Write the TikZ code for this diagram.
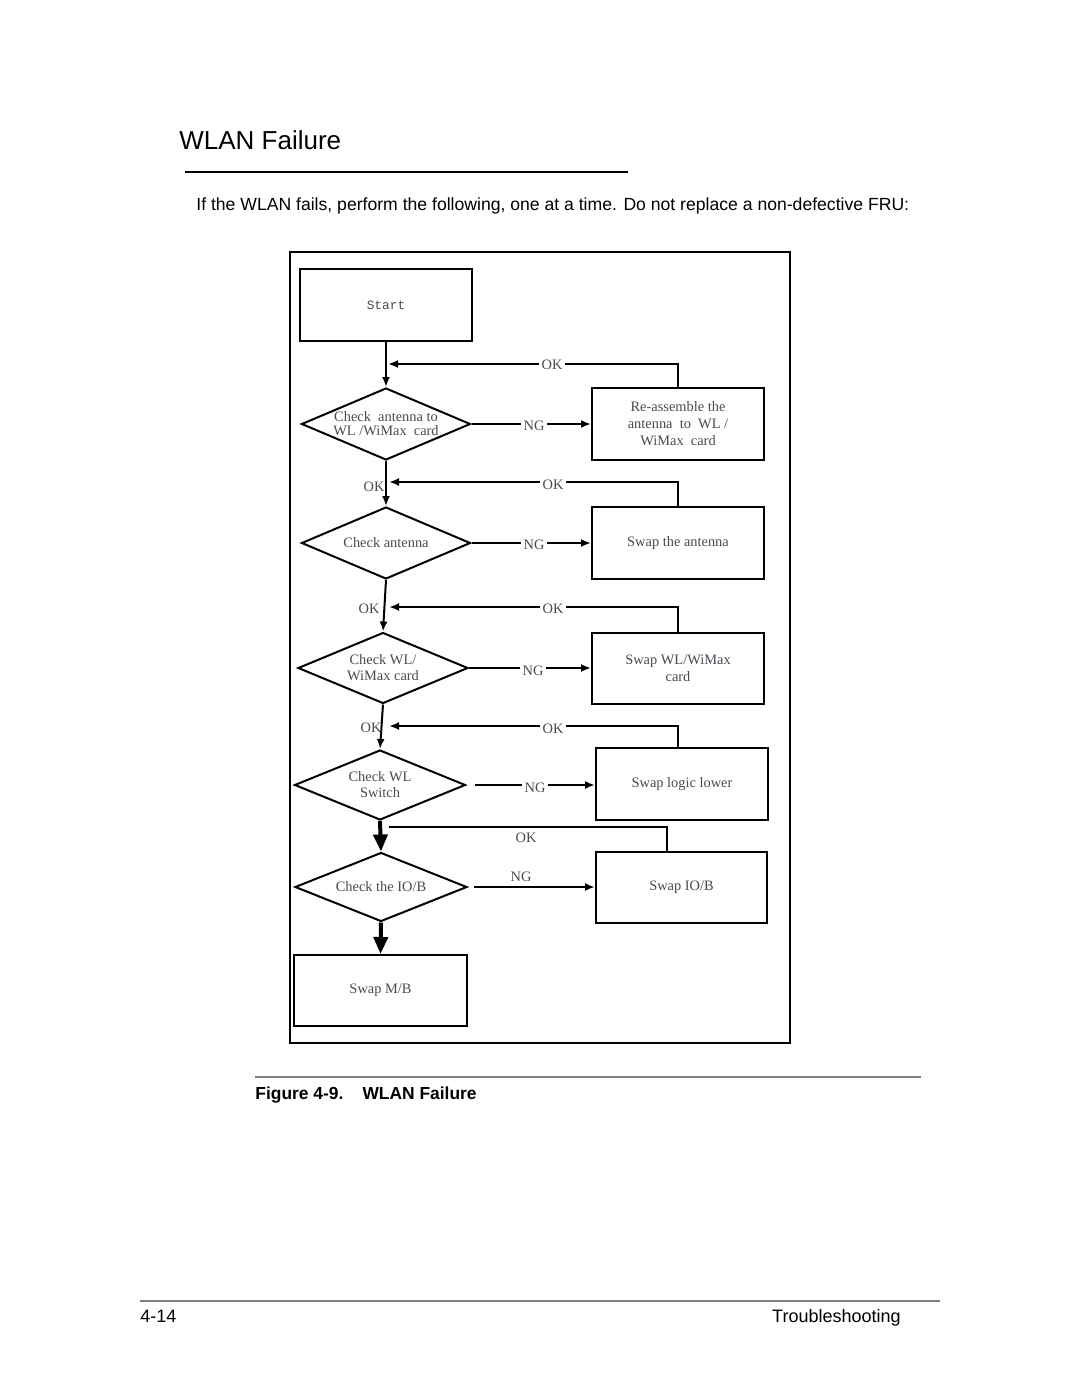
\documentclass[tikz,border=0pt]{standalone}
\usepackage{fontspec}
\setmainfont{Liberation Sans}
\newfontfamily\ser{Liberation Serif}
\newfontfamily\mon{Liberation Mono}
\usetikzlibrary{shapes.geometric,arrows.meta,calc}
\definecolor{dtext}{HTML}{4A4A52}
\definecolor{rule}{HTML}{808080}
\begin{document}
\begin{tikzpicture}[x=0.5pt,y=-0.5pt,
  box/.style={draw,line width=1pt,minimum width=86pt,minimum height=36pt,inner sep=1pt,align=center,
    font=\ser\fontsize{7.2}{8.5}\selectfont,text=dtext},
  dia/.style={draw,diamond,aspect=2.35,inner sep=0pt,line width=1pt,align=center,
    font=\ser\fontsize{7.2}{8}\selectfont,text=dtext},
  con/.style={line width=1pt},
  arr/.style={con,-{Latex[length=5pt,width=4pt]}},
  thk/.style={line width=2pt,-{Triangle[length=8.5pt,width=7pt]}},
  lbl/.style={fill=white,inner sep=1.5pt,font=\ser\fontsize{7.2}{8}\selectfont,text=dtext},
  plain/.style={inner sep=0pt}]
\useasboundingbox[fill=white] (0,0) rectangle (1080,1397);

% page texts
\node[plain,anchor=base west,font=\fontsize{13}{15}\selectfont] (title) at (179,149) {WLAN Failure};
\draw[line width=1.1pt] (185,172) -- (628,172);
\node[plain,anchor=base west,font=\fontsize{8.8}{11}\selectfont] (intro) at (196,210)
  {If the WLAN fails, perform the following, one at a time. Do not replace a non-defective FRU:};
\draw[rule,line width=0.6pt] (255,1077) -- (921,1077);
\node[plain,anchor=base west,font=\bfseries\fontsize{8.7}{11}\selectfont] (cap) at (255,1099)
  {Figure 4-9.\hspace{1.1em}WLAN Failure};
\draw[rule,line width=0.7pt] (140,1301) -- (940,1301);
\node[plain,anchor=base west,font=\fontsize{9}{11}\selectfont] (pg) at (140,1322) {4-14};
\node[plain,anchor=base east,font=\fontsize{9}{11}\selectfont] (sec) at (901,1322) {Troubleshooting};

% frame
\draw[line width=1pt] (290,252) rectangle (790,1043);

% nodes
\node[box,font=\mon\fontsize{6.4}{8}\selectfont] (start) at (386,305) {Start};
\node[dia,minimum width=84.5pt,minimum height=36pt,font=\ser\fontsize{7.2}{7}\selectfont] (d1) at (386,424)
  {Check\ \ antenna to\\WL /WiMax\ \ card};
\node[box] (b1) at (678,424) {Re-assemble the\\antenna\ \ to\ \ WL /\\WiMax\ \ card};
\node[dia,minimum width=84.5pt,minimum height=36pt] (d2) at (386,543) {Check antenna};
\node[box] (b2) at (678,543) {Swap the antenna};
\node[dia,minimum width=85pt,minimum height=35.5pt] (d3) at (383,668) {Check WL/\\WiMax card};
\node[box,minimum height=35.5pt] (b3) at (678,668) {Swap WL/WiMax\\card};
\node[dia,minimum width=85.5pt,minimum height=35pt] (d4) at (380,785) {Check WL\\Switch};
\node[box] (b4) at (682,784) {Swap logic lower};
\node[dia,minimum width=86pt,minimum height=34.5pt] (d5) at (381,887) {Check the IO/B};
\node[box,minimum width=85.5pt,minimum height=35.5pt] (b5) at (681.5,887.5) {Swap IO/B};
\node[box,minimum width=86.5pt,minimum height=35.5pt] (mb) at (380.5,990.5) {Swap M/B};

% junction coordinates on the main line
\coordinate (j1) at (388,364);
\coordinate (j2) at (389,482);
\coordinate (j3) at (389,607);
\coordinate (j4) at (389,726);
\coordinate (j5) at (389,827);
\coordinate (e4) at ([xshift=4pt]d4.east);
\coordinate (e5) at ([xshift=3pt]d5.east);

% connectors
\draw[arr] (start.south) -- (d1.north);
\draw[arr] (b1.north) |- (j1);
\node[lbl] (ok1) at (552,365) {OK};
\draw[arr] (d1.east) -- (b1.west);
\node[lbl] (ng1) at (534,426) {NG};

\draw[arr] (d1.south) -- (d2.north);
\node[lbl,fill=none] (ok2a) at (374,487) {OK};
\draw[arr] (b2.north) |- (j2);
\node[lbl] (ok2) at (553,485) {OK};
\draw[arr] (d2.east) -- (b2.west);
\node[lbl] (ng2) at (534,545) {NG};

\draw[arr] (d2.south) -- (d3.north);
\node[lbl,fill=none] (ok3a) at (369,609) {OK};
\draw[arr] (b3.north) |- (j3);
\node[lbl] (ok3) at (553,609) {OK};
\draw[arr] (d3.east) -- (b3.west);
\node[lbl] (ng3) at (533,671) {NG};

\draw[arr] (d3.south) -- (d4.north);
\node[lbl,fill=none] (ok4a) at (371,728) {OK};
\draw[arr] ([xshift=-2pt]b4.north) |- (j4);
\node[lbl] (ok4) at (553,729) {OK};
\draw[arr] (e4) -- (e4 -| b4.west);
\node[lbl] (ng4) at (535,788) {NG};

\draw[thk] (d4.south) -- (d5.north);
\draw[con] ([xshift=-7.25pt]b5.north) |- (j5);
\node[lbl,fill=none] (ok5) at (526,838) {OK};
\draw[arr] (e5) -- (e5 -| b5.west);
\node[lbl,fill=none] (ng5) at (521,877) {NG};

\draw[thk] (d5.south) -- (mb.north);
\end{tikzpicture}
\end{document}
